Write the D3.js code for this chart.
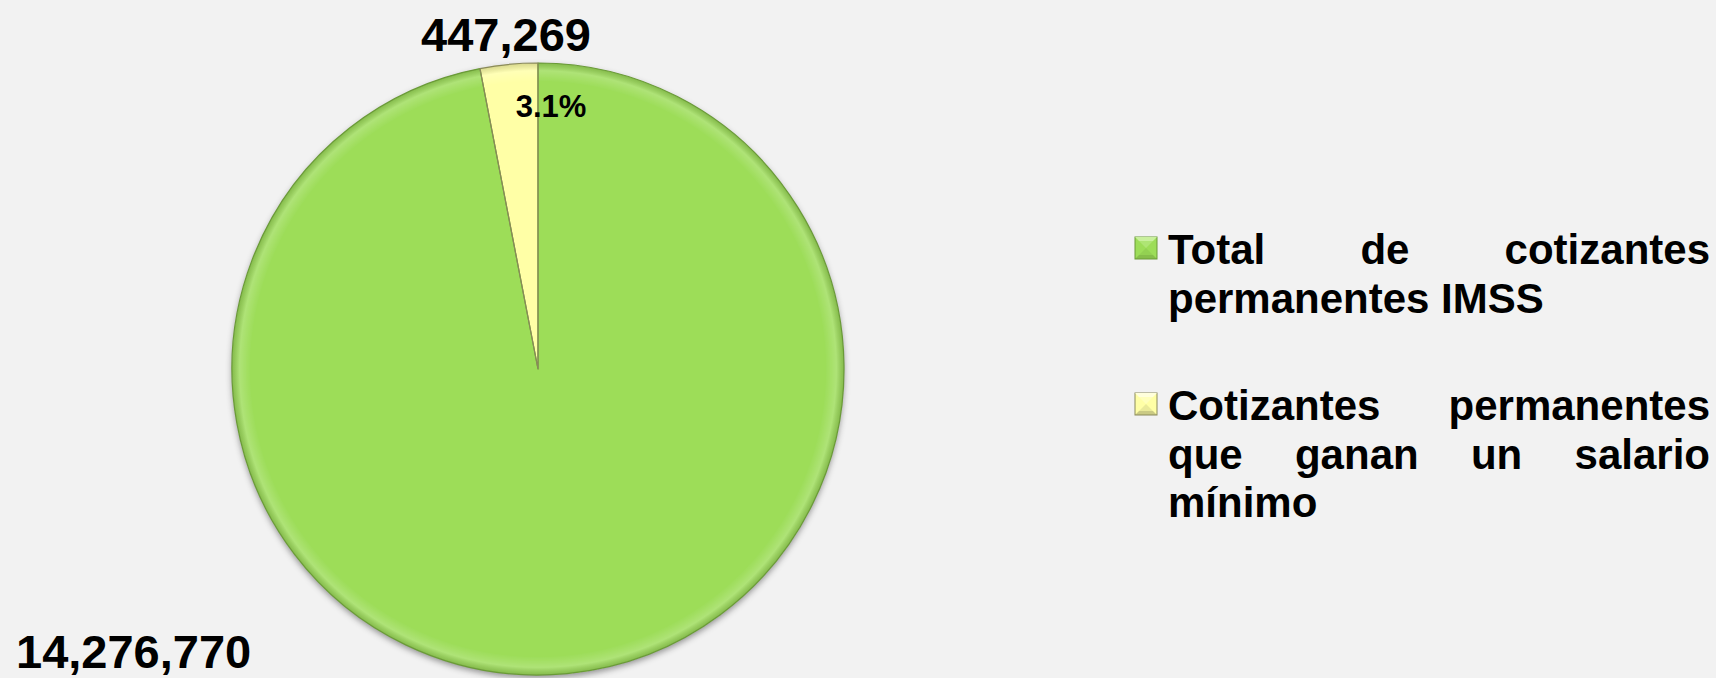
<!DOCTYPE html>
<html>
<head>
<meta charset="utf-8">
<script src="https://cdn.jsdelivr.net/npm/d3@7"></script>
<style>
  body { margin: 0; background: #f2f2f2; }
  svg { display: block; }
  text { font-family: "Liberation Sans", Arial, sans-serif; font-weight: bold; fill: #000; }
</style>
</head>
<body>
<div id="chart"></div>
<script>
// data
var categories = ["Total de cotizantes permanentes IMSS", "Cotizantes permanentes que ganan un salario mínimo"];
var values = [14276770, 447269];
var colors = ["#9ddd59", "#ffffa6"];
var darkColors = ["#6a9a38", "#8a8a5a"];
var lightColors = ["#c9f09d", "#ffffdc"];
// legend lines as laid out in the picture (last line of each item is not justified)
var legendLines = [
    ["Total de cotizantes", "permanentes IMSS"],
    ["Cotizantes permanentes", "que ganan un salario", "mínimo"]
];

var width = 1716,
    height = 678,
    cx = 538,
    cy = 369,
    radius = 306;

var svg = d3.select('#chart').append('svg')
    .attr('width', width)
    .attr('height', height);

svg.append('rect')
    .attr('width', width)
    .attr('height', height)
    .attr('fill', '#f2f2f2');

var defs = svg.append('defs');

var shadow = defs.append('filter')
    .attr('id', 'shadow')
    .attr('x', '-10%').attr('y', '-10%')
    .attr('width', '120%').attr('height', '120%');
shadow.append('feDropShadow')
    .attr('dx', 0).attr('dy', 3)
    .attr('stdDeviation', 3)
    .attr('flood-color', '#000')
    .attr('flood-opacity', 0.4);

// bevel: light rim just inside the edge, same for every slice
var rim = defs.append('radialGradient')
    .attr('id', 'rim')
    .attr('gradientUnits', 'userSpaceOnUse')
    .attr('cx', 0).attr('cy', 0).attr('r', radius);
rim.append('stop').attr('offset', '0%').attr('stop-color', '#fff').attr('stop-opacity', 0);
rim.append('stop').attr('offset', '94%').attr('stop-color', '#fff').attr('stop-opacity', 0);
rim.append('stop').attr('offset', '97.5%').attr('stop-color', '#fff').attr('stop-opacity', 0.18);
rim.append('stop').attr('offset', '100%').attr('stop-color', '#000').attr('stop-opacity', 0.15);

var pie = d3.pie().sort(null).value(function (d) { return d; });
var arcs = pie(values);

var arc = d3.arc().innerRadius(0).outerRadius(radius);

var g = svg.append('g')
    .attr('transform', 'translate(' + cx + ',' + cy + ')');

var pieLayer = g.append('g').attr('filter', 'url(#shadow)');

pieLayer.selectAll('path.slice')
    .data(arcs)
    .enter().append('path')
    .attr('class', 'slice')
    .attr('d', arc)
    .attr('fill', function (d, i) { return colors[i]; });

pieLayer.selectAll('path.rim')
    .data(arcs)
    .enter().append('path')
    .attr('class', 'rim')
    .attr('d', arc)
    .attr('fill', 'url(#rim)');

// slice borders
g.selectAll('path.edge')
    .data(arcs)
    .enter().append('path')
    .attr('class', 'edge')
    .attr('d', arc)
    .attr('fill', 'none')
    .attr('stroke', function (d, i) { return darkColors[i]; })
    .attr('stroke-width', 1.2)
    .attr('stroke-linejoin', 'round');

// value labels
var fmt = d3.format(',');
var small = arcs[1];
var midSmall = (small.startAngle + small.endAngle) / 2;
var lr = radius + 30;
g.append('text')
    .attr('x', Math.sin(midSmall) * lr)
    .attr('y', -Math.cos(midSmall) * lr)
    .attr('text-anchor', 'middle')
    .attr('dominant-baseline', 'central')
    .style('font-size', '47px')
    .text(fmt(values[1]));

g.append('text')
    .attr('x', 13)
    .attr('y', -radius + 54)
    .attr('text-anchor', 'middle')
    .style('font-size', '31px')
    .text(d3.format('.1%')(values[1] / values[0]));

g.append('text')
    .attr('x', -cx + 16)
    .attr('y', radius - 7)
    .attr('text-anchor', 'start')
    .style('font-size', '47px')
    .text(fmt(values[0]));

// legend
var legendX = 1135,
    textX = 1168,
    textRight = 1710,
    fontSize = 42,
    lineH = 48.5,
    itemTop = [264, 420];

var legend = svg.append('g').attr('class', 'legend');

function marker(parent, x, y, s, i) {
    var m = parent.append('g').attr('transform', 'translate(' + x + ',' + y + ')');
    var c = s / 2, b = 4;
    m.append('rect').attr('width', s).attr('height', s).attr('fill', colors[i])
        .attr('stroke', darkColors[i]).attr('stroke-width', 1);
    m.append('path').attr('d', 'M0,0L' + s + ',0L' + c + ',' + c + 'Z').attr('fill', lightColors[i]);
    m.append('path').attr('d', 'M0,' + s + 'L' + s + ',' + s + 'L' + c + ',' + c + 'Z').attr('fill', darkColors[i]).attr('opacity', 0.45);
    m.append('rect').attr('x', b).attr('y', b).attr('width', s - 2 * b).attr('height', s - 2 * b)
        .attr('fill', colors[i]).attr('opacity', 0.6);
}

legendLines.forEach(function (lines, i) {
    marker(legend, legendX, itemTop[i] - 27, 22, i);
    lines.forEach(function (line, j) {
        var y = itemTop[i] + j * lineH;
        var words = line.split(' ');
        var justify = j < lines.length - 1 && words.length > 1;
        if (!justify) {
            legend.append('text')
                .attr('x', textX).attr('y', y)
                .style('font-size', fontSize + 'px')
                .text(line);
            return;
        }
        var nodes = words.map(function (w) {
            return legend.append('text').attr('y', y).style('font-size', fontSize + 'px').text(w);
        });
        var widths = nodes.map(function (n) { return n.node().getComputedTextLength(); });
        var gap = (textRight - textX - d3.sum(widths)) / (words.length - 1);
        var x = textX;
        nodes.forEach(function (n, k) {
            n.attr('x', x);
            x += widths[k] + gap;
        });
    });
});
</script>
</body>
</html>
